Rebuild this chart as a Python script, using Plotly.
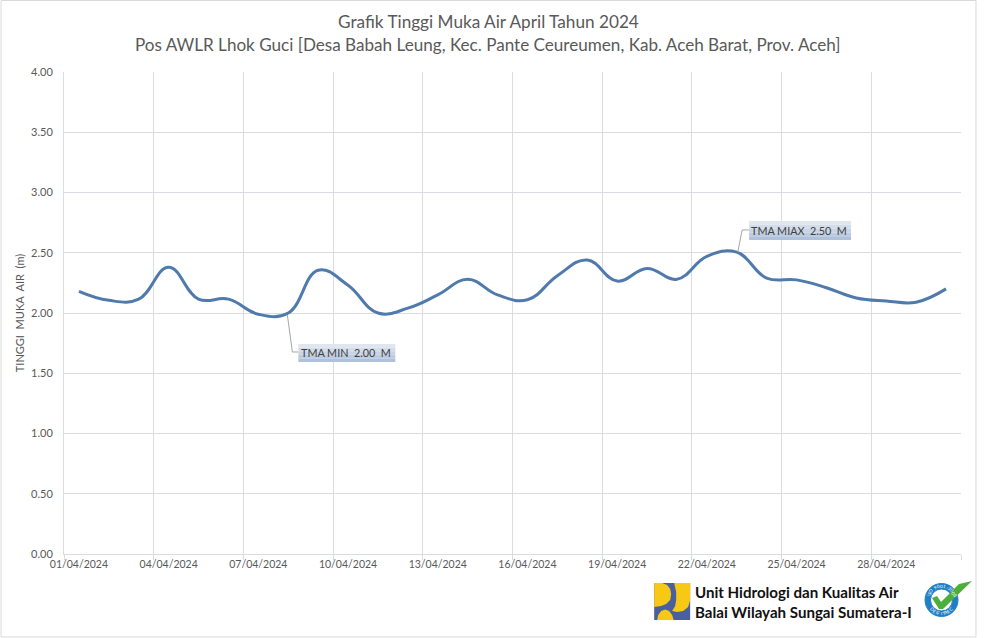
import math
import plotly.graph_objects as go

# data
tanggal = [f"{d:02d}/04/2024" for d in range(1, 31)]
tma = [2.18, 2.105, 2.115, 2.38, 2.115, 2.115, 1.99, 2.00, 2.355, 2.23,
       2.00, 2.04, 2.15, 2.28, 2.15, 2.11, 2.31, 2.44, 2.265, 2.37,
       2.28, 2.47, 2.505, 2.29, 2.275, 2.21, 2.125, 2.10, 2.09, 2.20]
y_ticks = [0, 0.5, 1, 1.5, 2, 2.5, 3, 3.5, 4]

W, H = 984, 638
L, R, T, B = 63.5, 961, 72, 554
TEXT = "#595959"
GRID = "#d9dde3"
FONT = "Lato, Carlito, 'Open Sans', sans-serif"


def px(x):
    return (x - L) / (R - L)


def py(y):
    return (B - y) / (B - T)


def rect(x0, y0, x1, y1, fill, line=None):
    return dict(type="rect", xref="paper", yref="paper", x0=px(x0), x1=px(x1), y0=py(y0), y1=py(y1),
                fillcolor=fill, line=dict(color=line or fill, width=1 if line else 0), layer="above")


def path(points, fill=None, line=None, width=1, closed=True):
    d = "M " + " L ".join(f"{px(x):.5f},{py(y):.5f}" for x, y in points) + (" Z" if closed else "")
    return dict(type="path", xref="paper", yref="paper", path=d, fillcolor=fill or "rgba(0,0,0,0)",
                line=dict(color=line or "rgba(0,0,0,0)", width=width), layer="above")


def circle(cx, cy, r, fill, line=None, width=1):
    return dict(type="circle", xref="paper", yref="paper", x0=px(cx - r), x1=px(cx + r), y0=py(cy + r), y1=py(cy - r),
                fillcolor=fill, line=dict(color=line or fill, width=width), layer="above")


fig = go.Figure()

fig.add_trace(go.Scatter(
    x=tanggal,
    y=tma,
    mode="lines",
    line=dict(color="#4f7aab", width=3, shape="spline", smoothing=1.2),
    hoverinfo="skip",
    showlegend=False,
))

shapes = [
    # bingkai luar
    rect(0.5, 0.5, 976, 637, "rgba(0,0,0,0)", "#d9d9d9"),
    # garis penunjuk label
    path([(287, 315), (292, 352), (298, 352)], line="#a6a6a6", closed=False),
    path([(737.7, 252), (742, 230), (749, 230)], line="#a6a6a6", closed=False),
]

# kotak label, gradasi dibuat dari beberapa strip
for x0, x1, y0, y1 in [(298, 395, 344, 362), (749, 851, 221, 240)]:
    warna = ["#dfe6f0", "#d3dde9", "#c8d4e5", "#bccbe0", "#b0c2db"]
    h = (y1 - y0) / len(warna)
    for i, c in enumerate(warna):
        shapes.append(rect(x0, y0 + i * h, x1, y0 + (i + 1) * h, c))

# logo PU
shapes += [
    rect(654, 583, 690, 620, "#4a5f9d"),
    path([(654, 583), (662, 583), (667, 585), (670, 589), (671, 594), (670, 600), (666, 604), (661, 606), (654, 607)],
         fill="#f7c815"),
    path([(674, 583), (690, 583), (690, 600), (688, 607), (683, 611), (677, 612), (672, 611), (675, 606), (676, 600),
          (676, 592)], fill="#f7c815"),
    path([(657, 620), (658, 615), (661, 611), (665, 609.5), (669, 611), (672, 615), (673.5, 620)], fill="#f7c815"),
]

# lencana sertifikat
shapes += [
    circle(941.5, 600, 16.5, "#1f7fc4"),
    circle(941.5, 600, 11, "#ffffff", "#1f7fc4", 1),
    path([(932, 598), (937, 596), (941, 602), (959, 584), (972, 581), (943, 609), (939, 609)], fill="#4caf3c"),
]

annotations = [
    dict(text="Grafik Tinggi Muka Air April Tahun 2024", x=px(488), y=py(22), xanchor="center",
         font=dict(size=17.2, color=TEXT)),
    dict(text="Pos AWLR Lhok Guci [Desa Babah Leung, Kec. Pante Ceureumen, Kab. Aceh Barat, Prov. Aceh]",
         x=px(488), y=py(45), xanchor="center", font=dict(size=17.1, color=TEXT)),
    dict(text="TMA MIN  2.00  M", x=px(346), y=py(353), xanchor="center", font=dict(size=10.8, color="#404040")),
    dict(text="TMA MIAX  2.50  M", x=px(799), y=py(230.5), xanchor="center", font=dict(size=10.8, color="#404040")),
    dict(text="<b>Unit Hidrologi dan Kualitas Air</b>", x=px(694), y=py(592), xanchor="left",
         font=dict(size=15.1, color="#111111")),
    dict(text="<b>Balai Wilayah Sungai Sumatera-I</b>", x=px(694), y=py(612), xanchor="left",
         font=dict(size=15.1, color="#111111")),
]

# huruf melingkar pada lencana
for teks, mulai, langkah, atas in [("ISO 9001:2008", -72, 12, True), ("CERTIFIED", 44, -11, False)]:
    for i, huruf in enumerate(teks):
        sudut = mulai + i * langkah
        rad = math.radians(sudut)
        if atas:
            x, y = 941.5 + 13.7 * math.sin(rad), 600 - 13.7 * math.cos(rad)
            rot = sudut
        else:
            x, y = 941.5 + 13.7 * math.sin(rad), 600 + 13.7 * math.cos(rad)
            rot = -sudut
        annotations.append(dict(text=huruf, x=px(x), y=py(y), xanchor="center", textangle=rot,
                                font=dict(size=4.5, color="#ffffff")))

for a in annotations:
    a.update(xref="paper", yref="paper", showarrow=False, yanchor="middle", borderpad=0)

fig.update_layout(
    width=W,
    height=H,
    margin=dict(l=L, r=W - R, t=T, b=H - B, pad=0),
    paper_bgcolor="white",
    plot_bgcolor="white",
    font=dict(family=FONT, color=TEXT, size=11),
    shapes=shapes,
    annotations=annotations,
    showlegend=False,
)

fig.update_xaxes(
    type="category",
    categoryorder="array",
    categoryarray=tanggal,
    range=[-0.5, 29.5],
    tickson="boundaries",
    tickmode="linear",
    tick0=0,
    dtick=3,
    ticks="outside",
    ticklen=5,
    tickcolor=GRID,
    showgrid=True,
    gridcolor=GRID,
    gridwidth=1,
    showline=True,
    linecolor=GRID,
    tickangle=0,
    tickfont=dict(size=10.5, color=TEXT),
)
fig.update_yaxes(
    range=[0, 4],
    tickvals=y_ticks,
    tickformat=".2f",
    ticks="",
    ticklabelstandoff=8,
    showgrid=True,
    gridcolor=GRID,
    gridwidth=1,
    zeroline=False,
    showline=True,
    linecolor=GRID,
    tickfont=dict(size=11, color=TEXT),
    title=dict(text="TINGGI  MUKA  AIR  (m)", standoff=4, font=dict(size=11, color=TEXT)),
)

fig.write_html("out.html", config={"displayModeBar": False}, post_script="document.body.style.margin='0';")
